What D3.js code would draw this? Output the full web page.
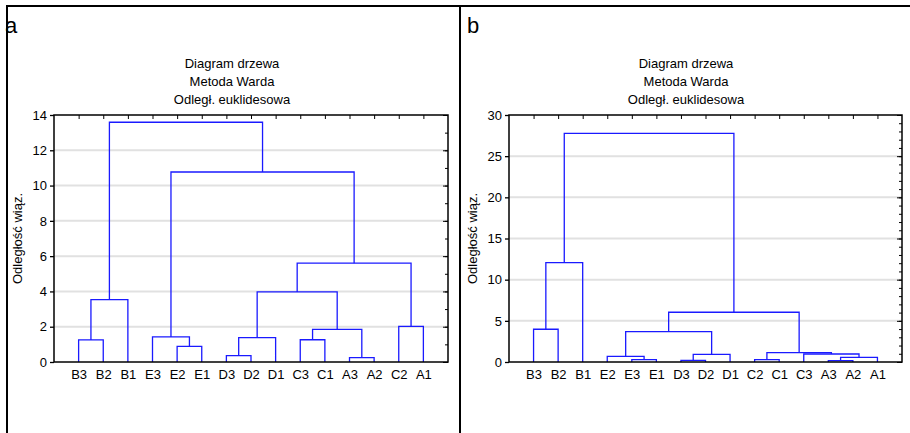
<!DOCTYPE html>
<html>
<head>
<meta charset="utf-8">
<script src="https://cdn.jsdelivr.net/npm/d3@7"></script>
<style>
  body { margin: 0; background: #fff; }
  text { font-family: "Liberation Sans", Arial, sans-serif; fill: #000; }
</style>
</head>
<body>
<svg id="chart" width="910" height="433"></svg>
<script>
// ---------------------------------------------------- Data
// leaves in plotted order, merges as [left, right, height]
// left/right = leaf label or index of an earlier merge
const titleLines = ["Diagram drzewa", "Metoda Warda", "Odległ. euklidesowa"];
const yLabel = "Odległość wiąz.";

const leavesA = ["B3", "B2", "B1", "E3", "E2", "E1", "D3", "D2", "D1", "C3", "C1", "A3", "A2", "C2", "A1"];
const mergesA = [
  ["B3", "B2", 1.25],   // 0
  [0, "B1", 3.53],      // 1
  ["E2", "E1", 0.89],   // 2
  ["E3", 2, 1.42],      // 3
  ["D3", "D2", 0.36],   // 4
  [4, "D1", 1.38],      // 5
  ["C3", "C1", 1.26],   // 6
  ["A3", "A2", 0.25],   // 7
  [6, 7, 1.85],         // 8
  [5, 8, 3.97],         // 9
  ["C2", "A1", 2.02],   // 10
  [9, 10, 5.6],         // 11
  [3, 11, 10.77],       // 12
  [1, 12, 13.59]        // 13
];
const yTicksA = [0, 2, 4, 6, 8, 10, 12, 14];

const leavesB = ["B3", "B2", "B1", "E2", "E3", "E1", "D3", "D2", "D1", "C2", "C1", "C3", "A3", "A2", "A1"];
const mergesB = [
  ["B3", "B2", 3.98],   // 0
  [0, "B1", 12.06],     // 1
  ["E3", "E1", 0.3],    // 2
  ["E2", 2, 0.68],      // 3
  ["D3", "D2", 0.2],    // 4
  [4, "D1", 0.93],      // 5
  [3, 5, 3.68],         // 6
  ["C2", "C1", 0.28],   // 7
  ["A3", "A2", 0.16],   // 8
  [8, "A1", 0.57],      // 9
  ["C3", 9, 0.97],      // 10
  [7, 10, 1.15],        // 11
  [6, 11, 6.04],        // 12
  [1, 12, 27.77]        // 13
];
const yTicksB = [0, 5, 10, 15, 20, 25, 30];

// ---------------------------------------------------- Setup
const svg = d3.select("#chart");

const plotTop = 115, plotBottom = 362;

function drawPanel(opt) {
  const g = svg.append("g");

  const x = d3.scaleLinear()
      .domain([0, opt.leaves.length + 1])
      .range([opt.left, opt.right]);

  const yMax = opt.yTicks[opt.yTicks.length - 1];
  const y = d3.scaleLinear()
      .domain([0, yMax])
      .range([plotBottom, plotTop]);

  // panel letter
  g.append("text")
    .text(opt.letter)
    .attr("x", opt.letterX)
    .attr("y", 33)
    .style("font-size", "22px");

  // title, three lines
  g.selectAll("text.title")
    .data(titleLines)
    .join("text")
      .attr("class", "title")
      .attr("x", opt.titleX)
      .attr("y", (d, i) => 68 + i * 18)
      .attr("text-anchor", "middle")
      .style("font-size", "13px")
      .text(d => d);

  // gridlines
  g.append("g")
    .selectAll("line")
    .data(opt.yTicks.slice(1, -1))
    .join("line")
      .attr("x1", opt.left)
      .attr("x2", opt.right)
      .attr("y1", d => y(d))
      .attr("y2", d => y(d))
      .attr("stroke", "#e1e1e1")
      .attr("stroke-width", 2);

  // dendrogram
  const nodes = [];
  const pos = name => typeof name === "number"
      ? nodes[name]
      : { x: x(opt.leaves.indexOf(name) + 1), h: 0 };

  opt.merges.forEach(function(m) {
    const l = pos(m[0]), r = pos(m[1]);
    nodes.push({ x: (l.x + r.x) / 2, h: m[2], l: l, r: r });
  });

  g.append("g")
    .selectAll("path")
    .data(nodes)
    .join("path")
      .attr("d", d => `M${d.l.x},${y(d.l.h)}V${y(d.h)}H${d.r.x}V${y(d.r.h)}`)
      .attr("fill", "none")
      .attr("stroke", "#1a1aff")
      .attr("stroke-width", 1.3);

  // left axis, ticks outward
  g.append("g")
    .attr("transform", `translate(${opt.left},0)`)
    .call(d3.axisLeft(y).tickValues(opt.yTicks).tickSize(4).tickPadding(3))
    .call(a => a.select(".domain").remove())
    .call(a => a.selectAll("text").style("font-size", "13px").style("font-family", null))
    .call(a => a.selectAll("line").attr("stroke-width", 1.3));

  // right axis, ticks inward, with minor ticks
  const minor = d3.range(0, yMax + 0.001, opt.minorStep);
  g.append("g")
    .attr("transform", `translate(${opt.right},0)`)
    .call(d3.axisRight(y).tickValues(minor).tickSize(-3).tickFormat(""))
    .call(a => a.select(".domain").remove());
  g.append("g")
    .attr("transform", `translate(${opt.right},0)`)
    .call(d3.axisRight(y).tickValues(opt.yTicks).tickSize(-5).tickFormat(""))
    .call(a => a.select(".domain").remove());

  // top ticks, inward
  g.append("g")
    .attr("transform", `translate(0,${plotTop})`)
    .call(d3.axisTop(x).tickValues(d3.range(1, opt.leaves.length + 1)).tickSize(-4).tickFormat(""))
    .call(a => a.select(".domain").remove());

  // bottom leaf labels
  g.append("g")
    .attr("transform", `translate(0,${plotBottom})`)
    .call(d3.axisBottom(x)
      .tickValues(d3.range(1, opt.leaves.length + 1))
      .tickFormat(i => opt.leaves[i - 1])
      .tickSize(0).tickPadding(8))
    .call(a => a.select(".domain").remove())
    .call(a => a.selectAll("text").style("font-size", "13px").style("font-family", null));

  // plot frame
  g.append("rect")
    .attr("x", opt.left)
    .attr("y", plotTop)
    .attr("width", opt.right - opt.left)
    .attr("height", plotBottom - plotTop)
    .attr("fill", "none")
    .attr("stroke", "#000")
    .attr("stroke-width", 1.5);

  // y axis title
  g.append("text")
    .text(yLabel)
    .attr("transform", `translate(${opt.left - 32},${(plotTop + plotBottom) / 2}) rotate(-90)`)
    .attr("text-anchor", "middle")
    .style("font-size", "13px");
}

drawPanel({ letter: "a", letterX: 5, titleX: 232, left: 54, right: 448,
            leaves: leavesA, merges: mergesA, yTicks: yTicksA, minorStep: 1 });
drawPanel({ letter: "b", letterX: 467, titleX: 686, left: 509, right: 902,
            leaves: leavesB, merges: mergesB, yTicks: yTicksB, minorStep: 1 });

// outer frame
svg.append("path")
  .attr("d", "M7,433V6H910M460,6V433")
  .attr("fill", "none")
  .attr("stroke", "#000")
  .attr("stroke-width", 2);
</script>
</body>
</html>
